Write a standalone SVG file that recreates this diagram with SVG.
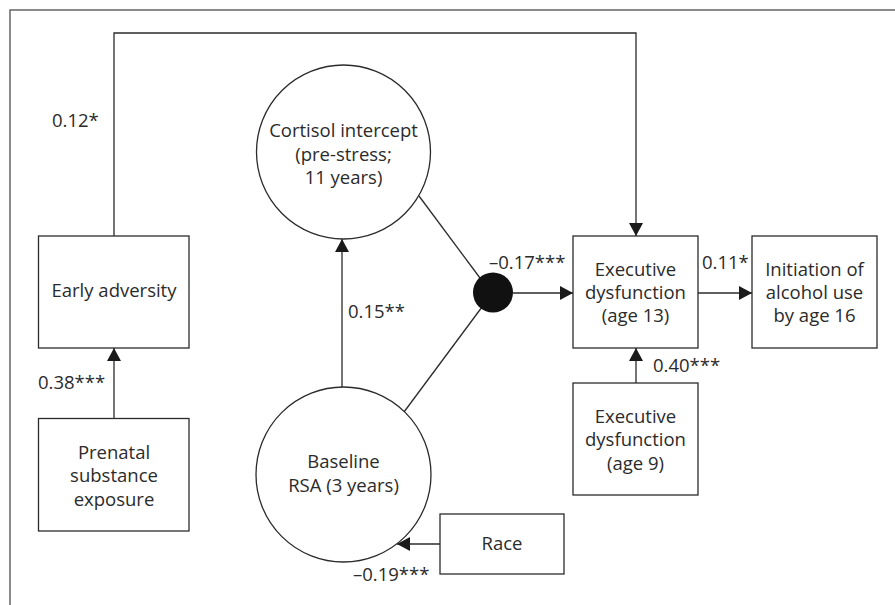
<svg xmlns="http://www.w3.org/2000/svg" width="895" height="605" viewBox="0 0 895 605">
<style>
text{font-family:"Open Sans","Noto Sans",sans-serif;font-size:18.5px;fill:#2b2b2b;text-anchor:middle}
.n{fill:#fff;stroke:#2b2b2b;stroke-width:1.3}
.c{fill:none;stroke:#2b2b2b;stroke-width:1.3}
.lbl{text-anchor:start}
</style>
<defs>
<marker id="ah" viewBox="0 0 13 14" refX="13" refY="7" markerWidth="13" markerHeight="14" markerUnits="userSpaceOnUse" orient="auto">
<path d="M0,0 L13,7 L0,14 Z" fill="#1a1a1a"/>
</marker>
</defs>
<rect width="895" height="605" fill="#fff"/>
<path d="M10,605 L10,10 L895,10" fill="none" stroke="#666" stroke-width="1.5"/>
<g id="connectors">
<path class="c" d="M114,236 L114,33 L636,33 L636,236" marker-end="url(#ah)"/>
<path class="c" d="M114,418 L114,348" marker-end="url(#ah)"/>
<path class="c" d="M342,387 L342,239" marker-end="url(#ah)"/>
<path class="c" d="M419,196 L480,278"/>
<path class="c" d="M404,412 L482,307"/>
<path class="c" d="M513,293 L573,293" marker-end="url(#ah)"/>
<path class="c" d="M698,293 L752,293" marker-end="url(#ah)"/>
<path class="c" d="M636,383 L636,348" marker-end="url(#ah)"/>
<path class="c" d="M440,544 L397,544" marker-end="url(#ah)"/>
<text class="lbl" x="52" y="127">0.12*</text>
<text class="lbl" x="38" y="389">0.38***</text>
<text class="lbl" x="348" y="318">0.15**</text>
<text class="lbl" x="489" y="269">–0.17***</text>
<text class="lbl" x="702" y="269">0.11*</text>
<text class="lbl" x="653" y="372">0.40***</text>
<text class="lbl" x="353" y="581">–0.19***</text>
</g>
<g id="early-adversity">
<rect class="n" x="38.5" y="236" width="150.5" height="112"/>
<text x="114" y="297">Early adversity</text>
</g>
<g id="prenatal">
<rect class="n" x="38.5" y="418.5" width="150.5" height="112.5"/>
<text x="114" y="459">Prenatal</text>
<text x="114" y="482">substance</text>
<text x="114" y="506">exposure</text>
</g>
<g id="cortisol">
<circle class="n" cx="343.5" cy="152" r="87"/>
<text x="343.5" y="137">Cortisol intercept</text>
<text x="343.5" y="161">(pre-stress;</text>
<text x="343.5" y="184">11 years)</text>
</g>
<g id="rsa">
<circle class="n" cx="343.5" cy="474.5" r="87.5"/>
<text x="343.5" y="468">Baseline</text>
<text x="343.5" y="492">RSA (3 years)</text>
</g>
<g id="interaction">
<circle cx="493" cy="292.5" r="20" fill="#111"/>
</g>
<g id="exec13">
<rect class="n" x="573" y="236" width="125" height="112"/>
<text x="635.5" y="276">Executive</text>
<text x="635.5" y="299">dysfunction</text>
<text x="635.5" y="322">(age 13)</text>
</g>
<g id="initiation">
<rect class="n" x="752" y="236" width="125" height="112"/>
<text x="814.5" y="276">Initiation of</text>
<text x="814.5" y="299">alcohol use</text>
<text x="814.5" y="322">by age 16</text>
</g>
<g id="exec9">
<rect class="n" x="573" y="383" width="125" height="112"/>
<text x="635.5" y="423">Executive</text>
<text x="635.5" y="446">dysfunction</text>
<text x="635.5" y="470">(age 9)</text>
</g>
<g id="race">
<rect class="n" x="440" y="514" width="124" height="60"/>
<text x="502" y="550">Race</text>
</g>
</svg>
